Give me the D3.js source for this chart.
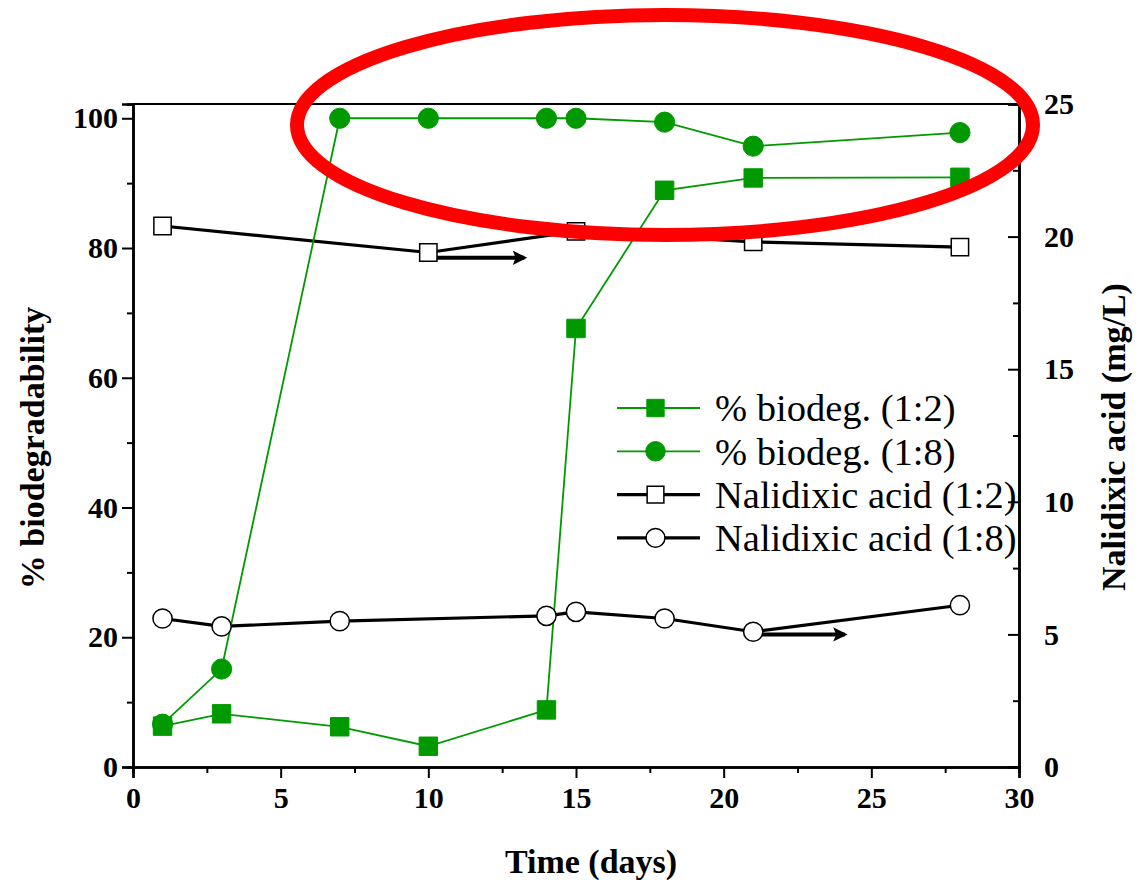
<!DOCTYPE html>
<html><head><meta charset="utf-8">
<script src="https://cdn.jsdelivr.net/npm/d3@7"></script>
<style>body{margin:0;background:#fff}svg{display:block}</style>
</head><body>
<svg id="c" width="1144" height="887"></svg>
<script>
const days12 = [1,3,7,10,14,15,18,21,28];
const biodeg12 = [6.3,8.2,6.2,3.2,8.8,67.6,88.9,90.8,90.9];
const days18 = [1,3,7,10,14,15,18,21,28];
const biodeg18 = [6.6,15.1,100,100,100,100,99.4,95.7,97.8];
const nalDays12 = [1,10,15,21,28];
const nal12 = [20.4,19.4,20.2,19.8,19.6];
const nalDays18 = [1,3,7,14,15,18,21,28];
const nal18 = [5.6,5.3,5.5,5.7,5.85,5.6,5.1,6.1];
const xTicks = [0,5,10,15,20,25,30];
const yTicks = [0,20,40,60,80,100];
const y2Ticks = [0,5,10,15,20,25];
const legendLabels = ["% biodeg. (1:2)","% biodeg. (1:8)","Nalidixic acid (1:2)","Nalidixic acid (1:8)"];
const green = "#009a00";
const FF = "Liberation Serif";

const svg = d3.select("#c");
const L=133,R=1019,T=104,B=767;
const x = d3.scaleLinear().domain([0,30]).range([L,R]);
const y = d3.scaleLinear().domain([0,102.2]).range([B,T]);
const y2 = d3.scaleLinear().domain([0,25]).range([B,T]);

// frame top
svg.append("line").attr("x1",L).attr("x2",R).attr("y1",T).attr("y2",T).attr("stroke","#000").attr("stroke-width",2);

function styleTicks(g){
  g.attr("font-family",FF).attr("font-size",30);
  g.selectAll("text").attr("font-family",FF).attr("font-size",30).attr("font-weight","bold");
}
// x axis
const gx = svg.append("g").attr("transform",`translate(0,${B})`)
  .call(d3.axisBottom(x).tickValues(xTicks).tickSize(11).tickPadding(9).tickFormat(d3.format("d")));
styleTicks(gx);
svg.append("g").attr("transform",`translate(0,${B})`)
  .call(d3.axisBottom(x).tickValues(d3.range(2.5,30,5)).tickSize(6).tickFormat(""));
// left axis
const gy = svg.append("g").attr("transform",`translate(${L},0)`)
  .call(d3.axisLeft(y).tickValues(yTicks).tickSize(11).tickPadding(4).tickFormat(d3.format("d")));
styleTicks(gy);
svg.append("g").attr("transform",`translate(${L},0)`)
  .call(d3.axisLeft(y).tickValues(d3.range(10,101,20)).tickSize(6).tickFormat(""));
// right axis
const gy2 = svg.append("g").attr("transform",`translate(${R},0)`)
  .call(d3.axisRight(y2).tickValues(y2Ticks).tickSize(-11).tickPadding(25).tickFormat(d3.format("d")));
styleTicks(gy2);
svg.append("g").attr("transform",`translate(${R},0)`)
  .call(d3.axisRight(y2).tickValues(d3.range(2.5,25,5)).tickSize(-6).tickFormat(""));
svg.selectAll(".domain").attr("stroke-width",2.5);
svg.selectAll(".tick line").attr("stroke-width",2);

// lines
const line = (xs, sc) => d3.line().x((d,i)=>x(xs[i])).y(d=>sc(d));
svg.append("path").datum(nal12).attr("d",line(nalDays12,y2)).attr("fill","none").attr("stroke","#000").attr("stroke-width",3.2);
svg.append("path").datum(nal18).attr("d",line(nalDays18,y2)).attr("fill","none").attr("stroke","#000").attr("stroke-width",3.2);
svg.append("path").datum(biodeg12).attr("d",line(days12,y)).attr("fill","none").attr("stroke",green).attr("stroke-width",1.8);
svg.append("path").datum(biodeg18).attr("d",line(days18,y)).attr("fill","none").attr("stroke",green).attr("stroke-width",1.8);

// arrows (pointing to right axis)
svg.append("defs").append("marker").attr("id","ah").attr("viewBox","0 0 10 10").attr("refX",8).attr("refY",5)
  .attr("markerWidth",5.5).attr("markerHeight",3.6).attr("markerUnits","strokeWidth").attr("orient","auto")
  .append("path").attr("d","M0,0L10,5L0,10L2,5z").attr("fill","#000");
const arrows = [{d:10,v:19.2,len:3.25},{d:21,v:5.0,len:3.1}];
arrows.forEach(a=>{
  svg.append("line").attr("x1",x(a.d)).attr("x2",x(a.d+a.len)).attr("y1",y2(a.v)).attr("y2",y2(a.v))
    .attr("stroke","#000").attr("stroke-width",4).attr("marker-end","url(#ah)");
});

// markers
const sym = (type,size)=>d3.symbol().type(type).size(size)();
function pts(xs, vs, sc, type, size, fill, stroke, sw){
  svg.append("g").selectAll("path").data(vs).join("path")
    .attr("transform",(d,i)=>`translate(${x(xs[i])},${sc(d)})`)
    .attr("d",sym(type,size)).attr("fill",fill).attr("stroke",stroke).attr("stroke-width",sw);
}
pts(nalDays12,nal12,y2,d3.symbolSquare,300,"#fff","#000",1.5);
pts(nalDays18,nal18,y2,d3.symbolCircle,290,"#fff","#000",1.5);
pts(days12,biodeg12,y,d3.symbolSquare,340,green,green,1);
pts(days18,biodeg18,y,d3.symbolCircle,320,green,green,1);

// legend
const ly0=408, ldy=43.3, lx1=617, lx2=700, ltx=715;
const lg = svg.append("g");
legendLabels.forEach((lab,i)=>{
  const yy = ly0+i*ldy;
  const isG = i<2;
  lg.append("line").attr("x1",lx1).attr("x2",lx2).attr("y1",yy).attr("y2",yy)
    .attr("stroke",isG?green:"#000").attr("stroke-width",isG?1.8:3.2);
  const t = [d3.symbolSquare,d3.symbolCircle,d3.symbolSquare,d3.symbolCircle][i];
  lg.append("path").attr("transform",`translate(${(lx1+lx2)/2-3},${yy})`).attr("d",sym(t,isG?300:280))
    .attr("fill",isG?green:"#fff").attr("stroke",isG?green:"#000").attr("stroke-width",isG?1:1.5);
  lg.append("text").attr("x",ltx).attr("y",yy).attr("dy","0.35em").attr("font-family",FF).attr("font-size",38.5).text(lab);
});

// axis titles
svg.append("text").attr("x",591).attr("y",873).attr("text-anchor","middle").attr("font-family",FF).attr("font-size",34).attr("font-weight","bold").text("Time (days)");
svg.append("text").attr("transform","translate(44,448) rotate(-90)").attr("text-anchor","middle").attr("font-family",FF).attr("font-size",34).attr("font-weight","bold").text("% biodegradability");
svg.append("text").attr("transform","translate(1125,437) rotate(-90)").attr("text-anchor","middle").attr("font-family",FF).attr("font-size",34).attr("font-weight","bold").text("Nalidixic acid (mg/L)");

// red ellipse annotation
svg.append("ellipse").attr("cx",665).attr("cy",125).attr("rx",368).attr("ry",110)
  .attr("fill","none").attr("stroke","#ff0000").attr("stroke-width",14);
</script>
</body></html>
